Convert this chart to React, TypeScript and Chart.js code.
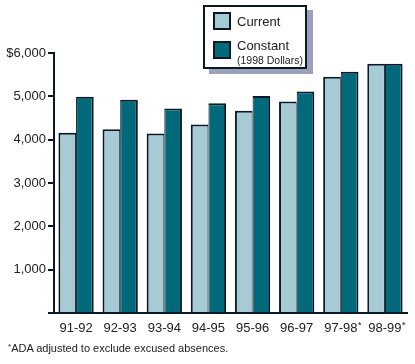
import React, { useEffect, useRef } from "react";
import { Chart, registerables } from "chart.js";

Chart.register(...registerables);

const categories = ["91-92", "92-93", "93-94", "94-95", "95-96", "96-97", "97-98*", "98-99*"];
const currentValues = [4160, 4240, 4140, 4350, 4670, 4880, 5450, 5750];
const constantValues = [4990, 4920, 4720, 4840, 5010, 5110, 5570, 5750];
const yTicks = [0, 1000, 2000, 3000, 4000, 5000, 6000];

const DARK = "#0b1828";
const LIGHT = "#a7cbd4";
const TEAL = "#006a7a";
const TEXT = "#222";
const FONT = "'Liberation Sans', Arial, Helvetica, sans-serif";

const superscriptStars = {
  id: "superscriptStars",
  afterDraw(chart: any) {
    const sc = chart.scales.x;
    const ctx = chart.ctx;
    ctx.save();
    categories.forEach((c, i) => {
      if (!c.endsWith("*")) return;
      ctx.font = `13px ${FONT}`;
      const w = ctx.measureText(c.slice(0, -1)).width;
      const x = sc.getPixelForValue(i);
      ctx.font = `9px ${FONT}`;
      ctx.textAlign = "left";
      ctx.textBaseline = "top";
      ctx.fillStyle = TEXT;
      ctx.fillText("*", x + w / 2 + 0.5, sc.top + 8);
    });
    ctx.restore();
  },
};

export default function App() {
  const ref = useRef<HTMLCanvasElement | null>(null);

  useEffect(() => {
    document.body.style.margin = "0";
    const canvas = ref.current;
    if (!canvas) return;
    const chart = new Chart(canvas, {
      type: "bar",
      data: {
        labels: categories,
        datasets: [
          {
            label: "Current",
            data: currentValues,
            backgroundColor: LIGHT,
            borderColor: DARK,
            borderWidth: { top: 2, left: 2, right: 1, bottom: 0 },
            borderSkipped: false,
            barPercentage: 1,
            categoryPercentage: 0.8,
          },
          {
            label: "Constant (1998 Dollars)",
            data: constantValues,
            backgroundColor: TEAL,
            borderColor: DARK,
            borderWidth: { top: 2, left: 1, right: 2, bottom: 0 },
            borderSkipped: false,
            barPercentage: 1,
            categoryPercentage: 0.8,
          },
        ],
      },
      plugins: [superscriptStars],
      options: {
        animation: false,
        responsive: false,
        maintainAspectRatio: false,
        layout: { padding: { top: 53, right: 8, left: 0, bottom: 0 } },
        plugins: { legend: { display: false }, tooltip: { enabled: false } },
        scales: {
          x: {
            grid: { display: false },
            border: { display: true, color: DARK, width: 2 },
            ticks: {
              color: TEXT,
              font: { family: FONT, size: 13 },
              padding: 0,
              maxRotation: 0,
              minRotation: 0,
              autoSkip: false,
              callback: (_v: any, i: number) => categories[i].replace("*", ""),
            },
            afterFit: (s: any) => {
              s.height = 51;
            },
          },
          y: {
            min: 0,
            max: 6000,
            afterBuildTicks: (s: any) => {
              s.ticks = yTicks.map((v) => ({ value: v }));
            },
            grid: {
              drawOnChartArea: false,
              drawTicks: true,
              tickLength: 6,
              color: DARK,
              lineWidth: 2,
            },
            border: { display: true, color: DARK, width: 2 },
            ticks: {
              color: TEXT,
              font: { family: FONT, size: 13 },
              padding: 2,
              callback: (v: any) => {
                const n = Number(v);
                if (n === 0) return "";
                const s = n.toLocaleString("en-US");
                return n === 6000 ? "$" + s : s;
              },
            },
            afterFit: (s: any) => {
              s.width = 54;
            },
          },
        },
      },
    });
    return () => chart.destroy();
  }, []);

  const swatch = (bg: string, top: number): React.CSSProperties => ({
    position: "absolute",
    left: 8,
    top,
    width: 14,
    height: 14,
    background: bg,
    border: `2px solid ${DARK}`,
  });

  return (
    <div style={{ position: "relative", width: 415, height: 364, background: "#fff", fontFamily: FONT }}>
      <canvas ref={ref} width={415} height={364} style={{ position: "absolute", left: 0, top: 0 }} />
      <div
        style={{
          position: "absolute",
          left: 203,
          top: 5,
          width: 100,
          height: 60,
          background: "#fff",
          border: `2px solid ${DARK}`,
          boxShadow: "6px 5px 0 #9aa2bb",
          color: TEXT,
        }}
      >
        <div style={swatch(LIGHT, 5)} />
        <div style={{ position: "absolute", left: 32, top: 7, fontSize: 13, lineHeight: "15px" }}>Current</div>
        <div style={swatch(TEAL, 34)} />
        <div style={{ position: "absolute", left: 32, top: 31, fontSize: 13, lineHeight: "15px" }}>Constant</div>
        <div style={{ position: "absolute", left: 32, top: 47, fontSize: 10.5, lineHeight: "12px" }}>(1998 Dollars)</div>
      </div>
      <div style={{ position: "absolute", left: 8, top: 340, fontSize: 11, lineHeight: "14px", color: TEXT }}>
        <sup style={{ fontSize: 8, verticalAlign: "3px" }}>*</sup>ADA adjusted to exclude excused absences.
      </div>
    </div>
  );
}
